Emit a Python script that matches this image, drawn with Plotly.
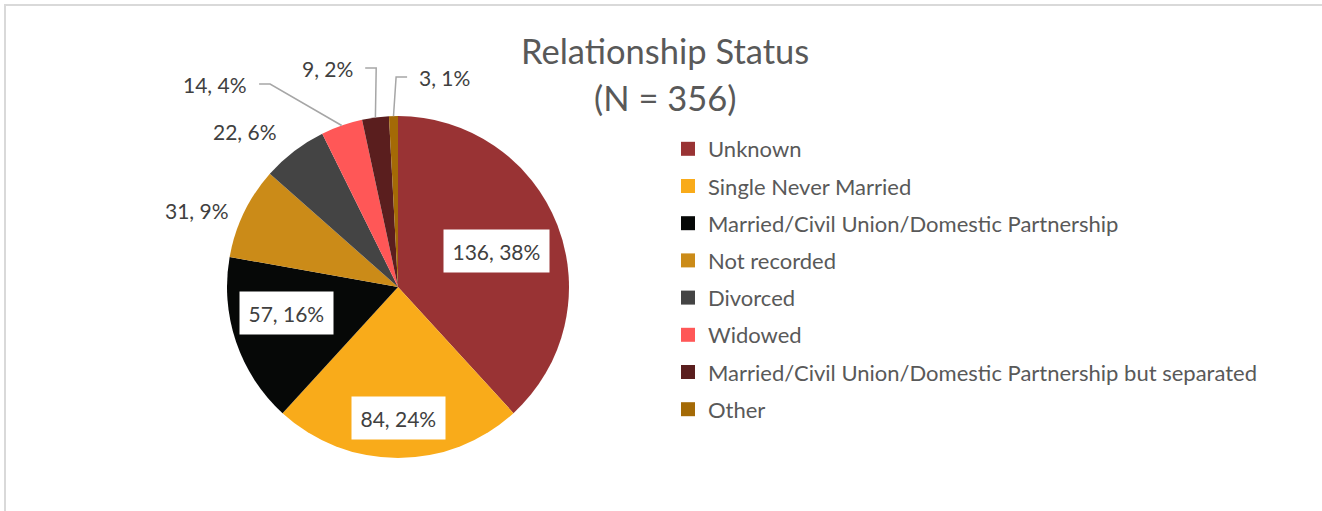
import math
import plotly.graph_objects as go

# ---- data ----
categories = ["Unknown", "Single Never Married", "Married/Civil Union/Domestic Partnership",
              "Not recorded", "Divorced", "Widowed",
              "Married/Civil Union/Domestic Partnership but separated", "Other"]
counts = [136, 84, 57, 31, 22, 14, 9, 3]
colors = ["#993334", "#F9AB1A", "#060807", "#CB8B18", "#444444", "#FF5757", "#5A1E1E", "#A46A06"]
title_lines = ["Relationship Status", "(N = 356)"]

# ---- style ----
W, H = 1322, 511
FONT = "Lato"
CX, CY, R = 398, 287, 171           # pie centre / radius in pixels
# label placement (style): radial factor, angle shift (deg), kind
label_style = [
    (0.615, 1.5, "box"), (0.766, 0.0, "box"), (0.667, 5.7, "box"),
    (1.261, -4.9, "plain"), (1.274, -7.2, "plain"),
    (1.403, -13.0, "leader_l"), (1.287, 1.9, "leader_l"), (1.228, 1.0, "leader_r"),
]
STUB, GAP = 11, 11

total = sum(counts)

# percentages rounded with largest-remainder so they sum to 100 (as the spreadsheet does)
raw = [v / total * 100 for v in counts]
pcts = [math.floor(p) for p in raw]
order = sorted(range(len(raw)), key=lambda i: raw[i] - pcts[i], reverse=True)
for i in order[: 100 - sum(pcts)]:
    pcts[i] += 1

fig = go.Figure()

fig.add_trace(go.Pie(
    labels=categories, values=counts, sort=False, direction="clockwise", rotation=0,
    marker=dict(colors=colors, line=dict(width=0)), textinfo="none", showlegend=False,
    hoverinfo="label+value+percent",
    domain=dict(x=[(CX - R) / W, (CX + R) / W], y=[(H - CY - R) / H, (H - CY + R) / H]),
))

# legend entries (one group per category so spacing can be set)
for i, (c, col) in enumerate(zip(categories, colors)):
    fig.add_trace(go.Scatter(x=[None], y=[None], mode="markers", name=c, legendgroup=str(i),
                             marker=dict(symbol="square", size=14, color=col), hoverinfo="skip"))

def pt(angle_deg, rf):
    a = math.radians(angle_deg)
    return CX + rf * R * math.sin(a), CY - rf * R * math.cos(a)

annotations = []
shapes = []
cum = 0
LBL_FONT = dict(family=FONT, size=21, color="#404040")
for i, v in enumerate(counts):
    mid = (cum + v / 2) / total * 360
    cum += v
    txt = f"{v}, {pcts[i]}%"
    rf, shift, kind = label_style[i]
    lx, ly = pt(mid + shift, rf)
    if kind == "box":
        annotations.append(dict(x=lx, y=ly, xref="x", yref="y", text=txt, showarrow=False,
                                bgcolor="white", borderpad=8.5, font=LBL_FONT))
    elif kind == "plain":
        annotations.append(dict(x=lx, y=ly, xref="x", yref="y", text=txt, showarrow=False,
                                font=LBL_FONT))
    else:
        ex, ey = pt(mid, 1.0)
        sgn = -1 if kind == "leader_l" else 1
        sx = lx + sgn * STUB
        shapes.append(dict(type="path", xref="x", yref="y",
                           path=f"M {sx:.1f} {ly:.1f} L {lx:.1f} {ly:.1f} L {ex:.1f} {ey:.1f}",
                           line=dict(color="#A6A6A6", width=1.5)))
        annotations.append(dict(x=sx + sgn * GAP, y=ly, xref="x", yref="y", text=txt,
                                showarrow=False, xanchor="right" if sgn < 0 else "left",
                                borderpad=0, font=LBL_FONT))

# title
for j, t in enumerate(title_lines):
    annotations.append(dict(x=665, y=50 + j * 47, xref="x", yref="y", text=t, showarrow=False,
                            font=dict(family=FONT, size=34.5, color="#595959")))

# chart border (top and left visible)
shapes.append(dict(type="rect", xref="x", yref="y", x0=5, y0=5, x1=W + 50, y1=H + 50,
                   line=dict(color="#D9D9D9", width=2), layer="below"))

fig.update_layout(
    width=W, height=H, margin=dict(l=0, r=0, t=0, b=0),
    paper_bgcolor="white", plot_bgcolor="rgba(0,0,0,0)",
    xaxis=dict(visible=False, range=[0, W], domain=[0, 1], fixedrange=True),
    yaxis=dict(visible=False, range=[H, 0], domain=[0, 1], fixedrange=True),
    showlegend=True,
    legend=dict(x=(708 - 40) / W, xanchor="left", y=1 - 128 / H, yanchor="top",
                traceorder="grouped", tracegroupgap=5.6,
                font=dict(family=FONT, size=22, color="#595959"),
                bgcolor="rgba(0,0,0,0)", itemclick=False, itemdoubleclick=False),
    annotations=annotations, shapes=shapes,
)

fig.write_html("out.html", config={"displayModeBar": False},
               post_script="document.body.style.margin='0';document.body.style.overflow='hidden';")
